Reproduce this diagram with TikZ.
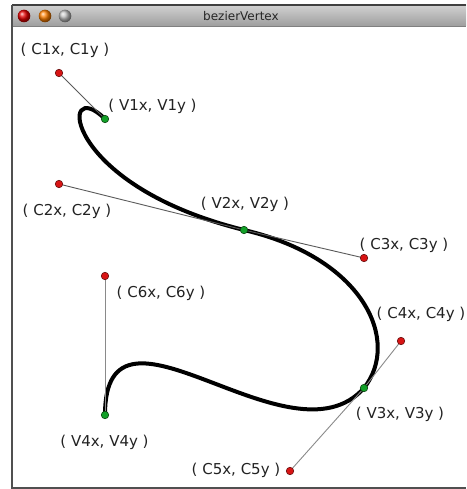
\documentclass[tikz,border=0pt]{standalone}
\usepackage{fontspec}
\setmainfont{DejaVu Sans}
\definecolor{framegray}{HTML}{505050}
\definecolor{handlegray}{HTML}{5A5A5A}
\definecolor{handlelight}{HTML}{8A8A8A}
\definecolor{dotred}{HTML}{D81414}
\definecolor{dotredline}{HTML}{6A1010}
\definecolor{dotgreen}{HTML}{12A028}
\definecolor{dotgreenline}{HTML}{0E4A14}
\definecolor{labeltext}{HTML}{222222}
\begin{document}
\begin{tikzpicture}[x=1pt,y=-1pt,
  lbl/.style={font=\fontsize{15}{18}\selectfont, text=labeltext, inner sep=0pt},
  ctrl/.style={circle, draw=dotredline, fill=dotred, line width=0.6pt, minimum size=7.5pt, inner sep=0pt},
  anch/.style={circle, draw=dotgreenline, fill=dotgreen, line width=0.6pt, minimum size=7.5pt, inner sep=0pt},
  handle/.style={draw=handlegray, line width=0.9pt},
  handlesoft/.style={draw=handlelight, line width=0.9pt},
  curveline/.style={draw=black, line width=4pt},
  frameline/.style={draw=framegray, line width=1.6pt}]
\useasboundingbox (0,0) rectangle (466,489);
\fill[white] (0,0) rectangle (466,489);
% window frame
\shade[top color=black!18, bottom color=black!38] (12,5) rectangle (466,26);
\draw[draw=black!75, line width=1.2pt] (12,5) -- (466,5);
\draw[draw=black!50, line width=0.8pt] (12,26) -- (466,26);
\draw[frameline] (12,5) -- (12,488) -- (466,488);
\shade[ball color=red!90!black] (24,16) circle (6.3);
\shade[ball color=orange] (45,16) circle (6.3);
\shade[ball color=black!25] (65,16) circle (6.3);
\node[font=\fontsize{12}{14}\selectfont, text=black!85, inner sep=0pt] (title) at (241,16) {bezierVertex};
% points
\coordinate (pV1) at (105,119);
\coordinate (pC1) at (59,73);
\coordinate (pC2) at (59,184);
\coordinate (pV2) at (244,230);
\coordinate (pC3) at (364,258);
\coordinate (pC4) at (401,341);
\coordinate (pV3) at (364,388);
\coordinate (pC5) at (290,471);
\coordinate (pC6) at (105,276);
\coordinate (pV4) at (105,415);
% curve
\draw[curveline, line cap=round] (pV1) .. controls (pC1) and (pC2) .. (pV2)
  .. controls (pC3) and (pC4) .. (pV3)
  .. controls (pC5) and (pC6) .. (pV4);
% handles
\draw[handle] (pC1) -- (pV1);
\draw[handle] (pC2) -- (pV2) -- (pC3);
\draw[handlesoft] (pC4) -- (pV3) -- (pC5);
\draw[handlesoft] (pC6) -- (pV4);
% dots
\node[ctrl] (c1) at (pC1) {};
\node[ctrl] (c2) at (pC2) {};
\node[ctrl] (c3) at (pC3) {};
\node[ctrl] (c4) at (pC4) {};
\node[ctrl] (c5) at (pC5) {};
\node[ctrl] (c6) at (pC6) {};
\node[anch] (v1) at (pV1) {};
\node[anch] (v2) at (pV2) {};
\node[anch] (v3) at (pV3) {};
\node[anch] (v4) at (pV4) {};
% labels
\node[lbl] (lc1) at (65,50) {( C1x, C1y )};
\node[lbl] (lv1) at (152.5,106) {( V1x, V1y )};
\node[lbl] (lc2) at (67,211) {( C2x, C2y )};
\node[lbl] (lv2) at (245,204) {( V2x, V2y )};
\node[lbl] (lc3) at (404,245) {( C3x, C3y )};
\node[lbl] (lc4) at (421,314) {( C4x, C4y )};
\node[lbl] (lv3) at (400,414) {( V3x, V3y )};
\node[lbl] (lc5) at (236,470) {( C5x, C5y )};
\node[lbl] (lc6) at (161,293) {( C6x, C6y )};
\node[lbl] (lv4) at (104.5,442) {( V4x, V4y )};
\end{tikzpicture}
\end{document}
